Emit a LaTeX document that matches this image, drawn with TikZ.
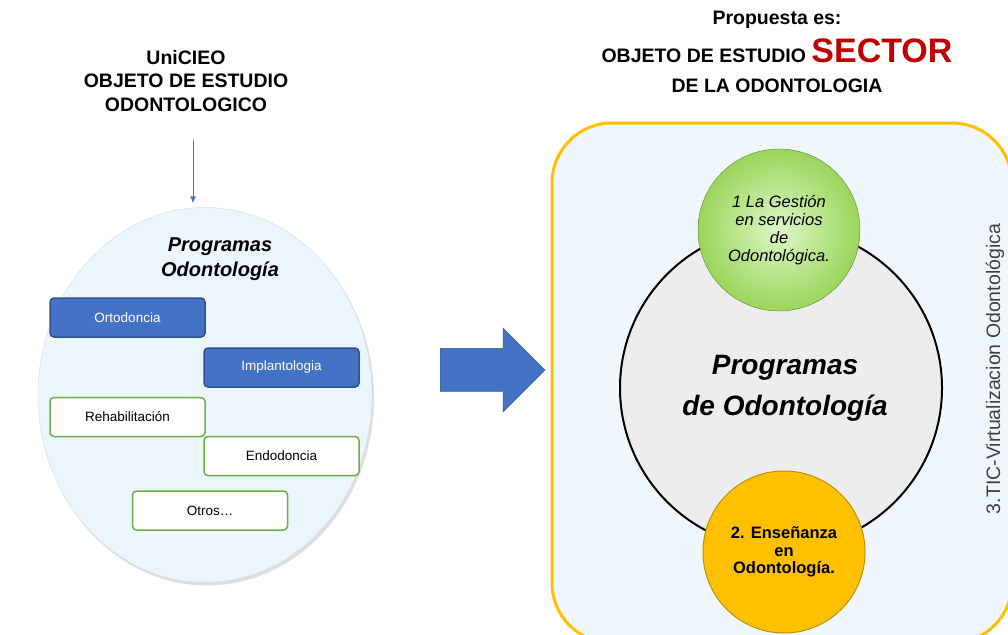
\documentclass[tikz,border=0pt]{standalone}
\usepackage{fontspec}
\setmainfont{Liberation Sans}
\usetikzlibrary{shapes.geometric,shapes.arrows,shadows,arrows.meta}
\definecolor{azul}{HTML}{4472C4}
\definecolor{azulosc}{HTML}{2F528F}
\definecolor{verde}{HTML}{70AD47}
\definecolor{verdeclaro}{HTML}{DDF7C8}
\definecolor{verdemedio}{HTML}{9BD55A}
\definecolor{celeste}{HTML}{EAF5FC}
\definecolor{fondo}{HTML}{F0F7FC}
\definecolor{ambar}{HTML}{FFC000}
\definecolor{ambarosc}{HTML}{BF9000}
\definecolor{gris}{HTML}{EDEDED}
\definecolor{rojo}{HTML}{C00000}
\tikzset{
  >={Latex[length=7pt,width=6pt]},
  head/.style={font=\bfseries\fontsize{19.5}{23.5}\selectfont, align=center},
  prog/.style={rounded corners=4pt, minimum width=155pt, minimum height=39pt,
    line width=1.5pt, font=\fontsize{13.5}{16}\selectfont},
  progazul/.style={prog, fill=azul, draw=azulosc, text=white},
  progverde/.style={prog, fill=white, draw=verde},
  bola/.style={circle, minimum size=162pt, inner sep=0pt, align=center},
}

\begin{document}
\begin{tikzpicture}[x=1pt,y=-1pt]
    \useasboundingbox[fill=white] (0,0) rectangle (1008,634);
    \node[head] (uni) at (186,81) {UniCIEO\\OBJETO DE ESTUDIO\\ODONTOLOGICO};
    \coordinate (dn) at (193,140);
    \node[ellipse, minimum width=334pt, minimum height=375pt, fill=celeste,
      draw=black!15, drop shadow={opacity=.25, shadow xshift=2pt, shadow yshift=-3pt}]
      (lcirc) at (205,395) {};
    \draw[->, azul, line width=1pt, shorten >=4pt] (dn) -- (lcirc.north -| dn);
    \node[font=\bfseries\itshape\fontsize{20}{25}\selectfont, align=center] (ltit) at (220,259)
      {Programas\\Odontología};
    \node[progazul] (orto) at (127.5,317.5) {Ortodoncia};
    \node[progazul] (impl) at (281.5,367.5) {Implantologia};
    \node[progverde] (rehab) at (127.5,417) {Rehabilitación};
    \node[progverde] (endo) at (281.5,456) {Endodoncia};
    \node[progverde] (otros) at (210,510.5) {Otros…};
    \node[single arrow, fill=azul, draw=azulosc, minimum height=105pt,
      single arrow head extend=20.5pt, inner xsep=0pt, inner ysep=21.5pt, anchor=tail]
      (flecha) at (440,370) {};
    \node[head, anchor=base] (prop) at (777,25) {Propuesta es:};
    \node[head, anchor=base] (obj) at (777,63)
      {OBJETO DE ESTUDIO {\color{rojo}\fontsize{34}{34}\selectfont SECTOR}};
    \node[head, anchor=base] (dela) at (777,92) {DE LA ODONTOLOGIA};
    \node[rounded corners=60pt, minimum width=460pt, minimum height=520pt, fill=fondo,
      draw=ambar, line width=3pt] (panel) at (782,383) {};
    \node[circle, minimum size=322pt, fill=gris, draw=black, line width=2pt] (pcirc) at (781,388) {};
    \node[font=\bfseries\itshape\fontsize{28}{41}\selectfont, align=center] (ptit) at (785,388)
      {Programas\\de Odontología};
    \node[bola, inner color=verdeclaro, outer color=verdemedio, draw=verde!80!black,
      font=\itshape\fontsize{16.5}{18}\selectfont] (gest) at (779,230)
      {1 La Gestión\\en servicios\\de\\Odontológica.};
    \node[bola, fill=ambar, draw=ambarosc, line width=1pt,
      font=\bfseries\fontsize{16.5}{17.5}\selectfont] (ense) at (784,552)
      {2. Enseñanza\\en\\Odontología.};
    \node[rotate=90, text=black!75, font=\fontsize{19.5}{22}\selectfont] (tic) at (995,369)
      {3.TIC-Virtualizacion Odontológica};
\end{tikzpicture}
\end{document}
